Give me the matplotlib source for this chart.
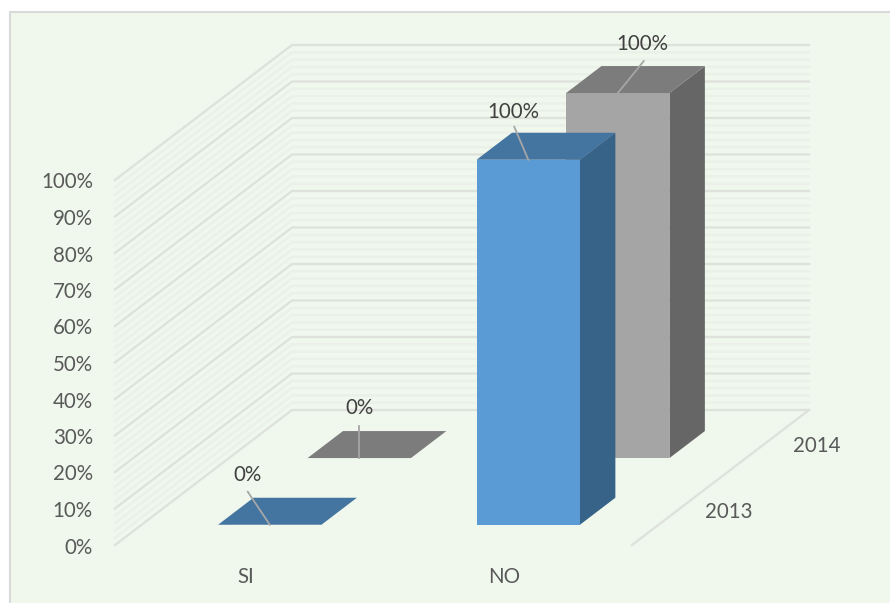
import matplotlib
matplotlib.use('Agg')
import matplotlib.pyplot as plt
from matplotlib.patches import Polygon, Rectangle

plt.rcParams['font.family'] = ['Lato', 'DejaVu Sans']

categories = ['SI', 'NO']
series_names = ['2013', '2014']
values_2013 = [0, 100]
values_2014 = [0, 100]
y_ticks = [0, 10, 20, 30, 40, 50, 60, 70, 80, 90, 100]
minor_ticks = [v for v in range(0, 101, 2) if v % 10 != 0]

bar_colors = {'2013': ('#5b9bd5', '#4475a1', '#376388'),
              '2014': ('#a5a5a5', '#7c7c7c', '#666666')}
bg = '#f0f8ed'
grid_major = '#dfe2dc'
grid_minor = '#ebf0e8'
text_col = '#595959'
label_col = '#404040'
fs = 14.8


# oblique projection: x 0-1 along categories, d 0-1 into the depth, v in percent
def proj(x, d, v):
    return (115 + 517 * x + 177 * d, 545 - 135 * d - 3.65 * v)


def bar_box(i, s):
    x0 = 0.148 + 0.5 * i + 0.004 * s
    d0 = 0.15 + 0.494 * s
    return x0, x0 + 0.2, d0, d0 + 0.2


fig = plt.figure(figsize=(8.9, 6.03), dpi=100, facecolor='white')
ax = fig.add_axes([0, 0, 1, 1])
ax.set_xlim(0, 890)
ax.set_ylim(603, 0)
ax.axis('off')

ax.add_patch(Rectangle((10, 12), 900, 700, fc=bg, ec='#d9d9d9', lw=1.5))

# walls
for v in minor_ticks:
    pts = [proj(0, 0, v), proj(0, 1, v), proj(1, 1, v)]
    ax.plot(*zip(*pts), color=grid_minor, lw=1.8, zorder=1, solid_joinstyle='miter')
for v in y_ticks:
    pts = [proj(0, 0, v), proj(0, 1, v), proj(1, 1, v)]
    ax.plot(*zip(*pts), color=grid_major, lw=1.7, zorder=2, solid_joinstyle='miter')
    tx, ty = proj(0, 0, v)
    ax.text(93, ty + 2.5, f'{v}%', ha='right', va='center', fontsize=fs, color=text_col)

# floor edge on the right
ax.plot(*zip(proj(1, 0, 0), proj(1, 1, 0)), color=grid_major, lw=1.7, zorder=2)


def bar3d(i, s, val, z):
    x0, x1, d0, d1 = bar_box(i, s)
    front, top, side = bar_colors[series_names[s]]
    if val > 0:
        ax.add_patch(Polygon([proj(x1, d0, 0), proj(x1, d1, 0), proj(x1, d1, val), proj(x1, d0, val)],
                             fc=side, ec='none', zorder=z))
        ax.add_patch(Polygon([proj(x0, d0, 0), proj(x1, d0, 0), proj(x1, d0, val), proj(x0, d0, val)],
                             fc=front, ec='none', zorder=z))
    ax.add_patch(Polygon([proj(x0, d0, val), proj(x1, d0, val), proj(x1, d1, val), proj(x0, d1, val)],
                         fc=top, ec='none', zorder=z))


# back series first so the front bars cover it
for s, vals in [(1, values_2014), (0, values_2013)]:
    for i, val in enumerate(vals):
        bar3d(i, s, val, 5 + (1 - s))

# data labels: offsets of the leader end and label centre from the bar's front edge
offsets = {(0, 0): (-22, -33, -22, -51), (1, 0): (-14, -33, -15, -49),
           (0, 1): (0, -32, 0, -51), (1, 1): (26, -32, 25, -50)}
for s, vals in enumerate([values_2013, values_2014]):
    for i, val in enumerate(vals):
        x0, x1, d0, d1 = bar_box(i, s)
        sx, sy = proj((x0 + x1) / 2, d0, val)
        ex, ey, tx, ty = offsets[(i, s)]
        ax.plot([sx, sx + ex], [sy, sy + ey], color='#a6a6a6', lw=1.3, zorder=8)
        ax.text(sx + tx, sy + ty + 1, f'{val}%', ha='center', va='center',
                fontsize=fs, color=label_col, zorder=9)

# axis labels
for cat, x in zip(categories, [0.25, 0.75]):
    px, py = proj(x, 0, 0)
    ax.text(px + 2 if cat == 'SI' else px + 1, py + 32, cat, ha='center', va='center', fontsize=fs, color=text_col)
for name, d in zip(series_names, [0.25, 0.744]):
    px, py = proj(1, d, 0)
    ax.text(px + 53, py + 1, name, ha='center', va='center', fontsize=fs, color=text_col)

fig.savefig('out.png', dpi=100)
